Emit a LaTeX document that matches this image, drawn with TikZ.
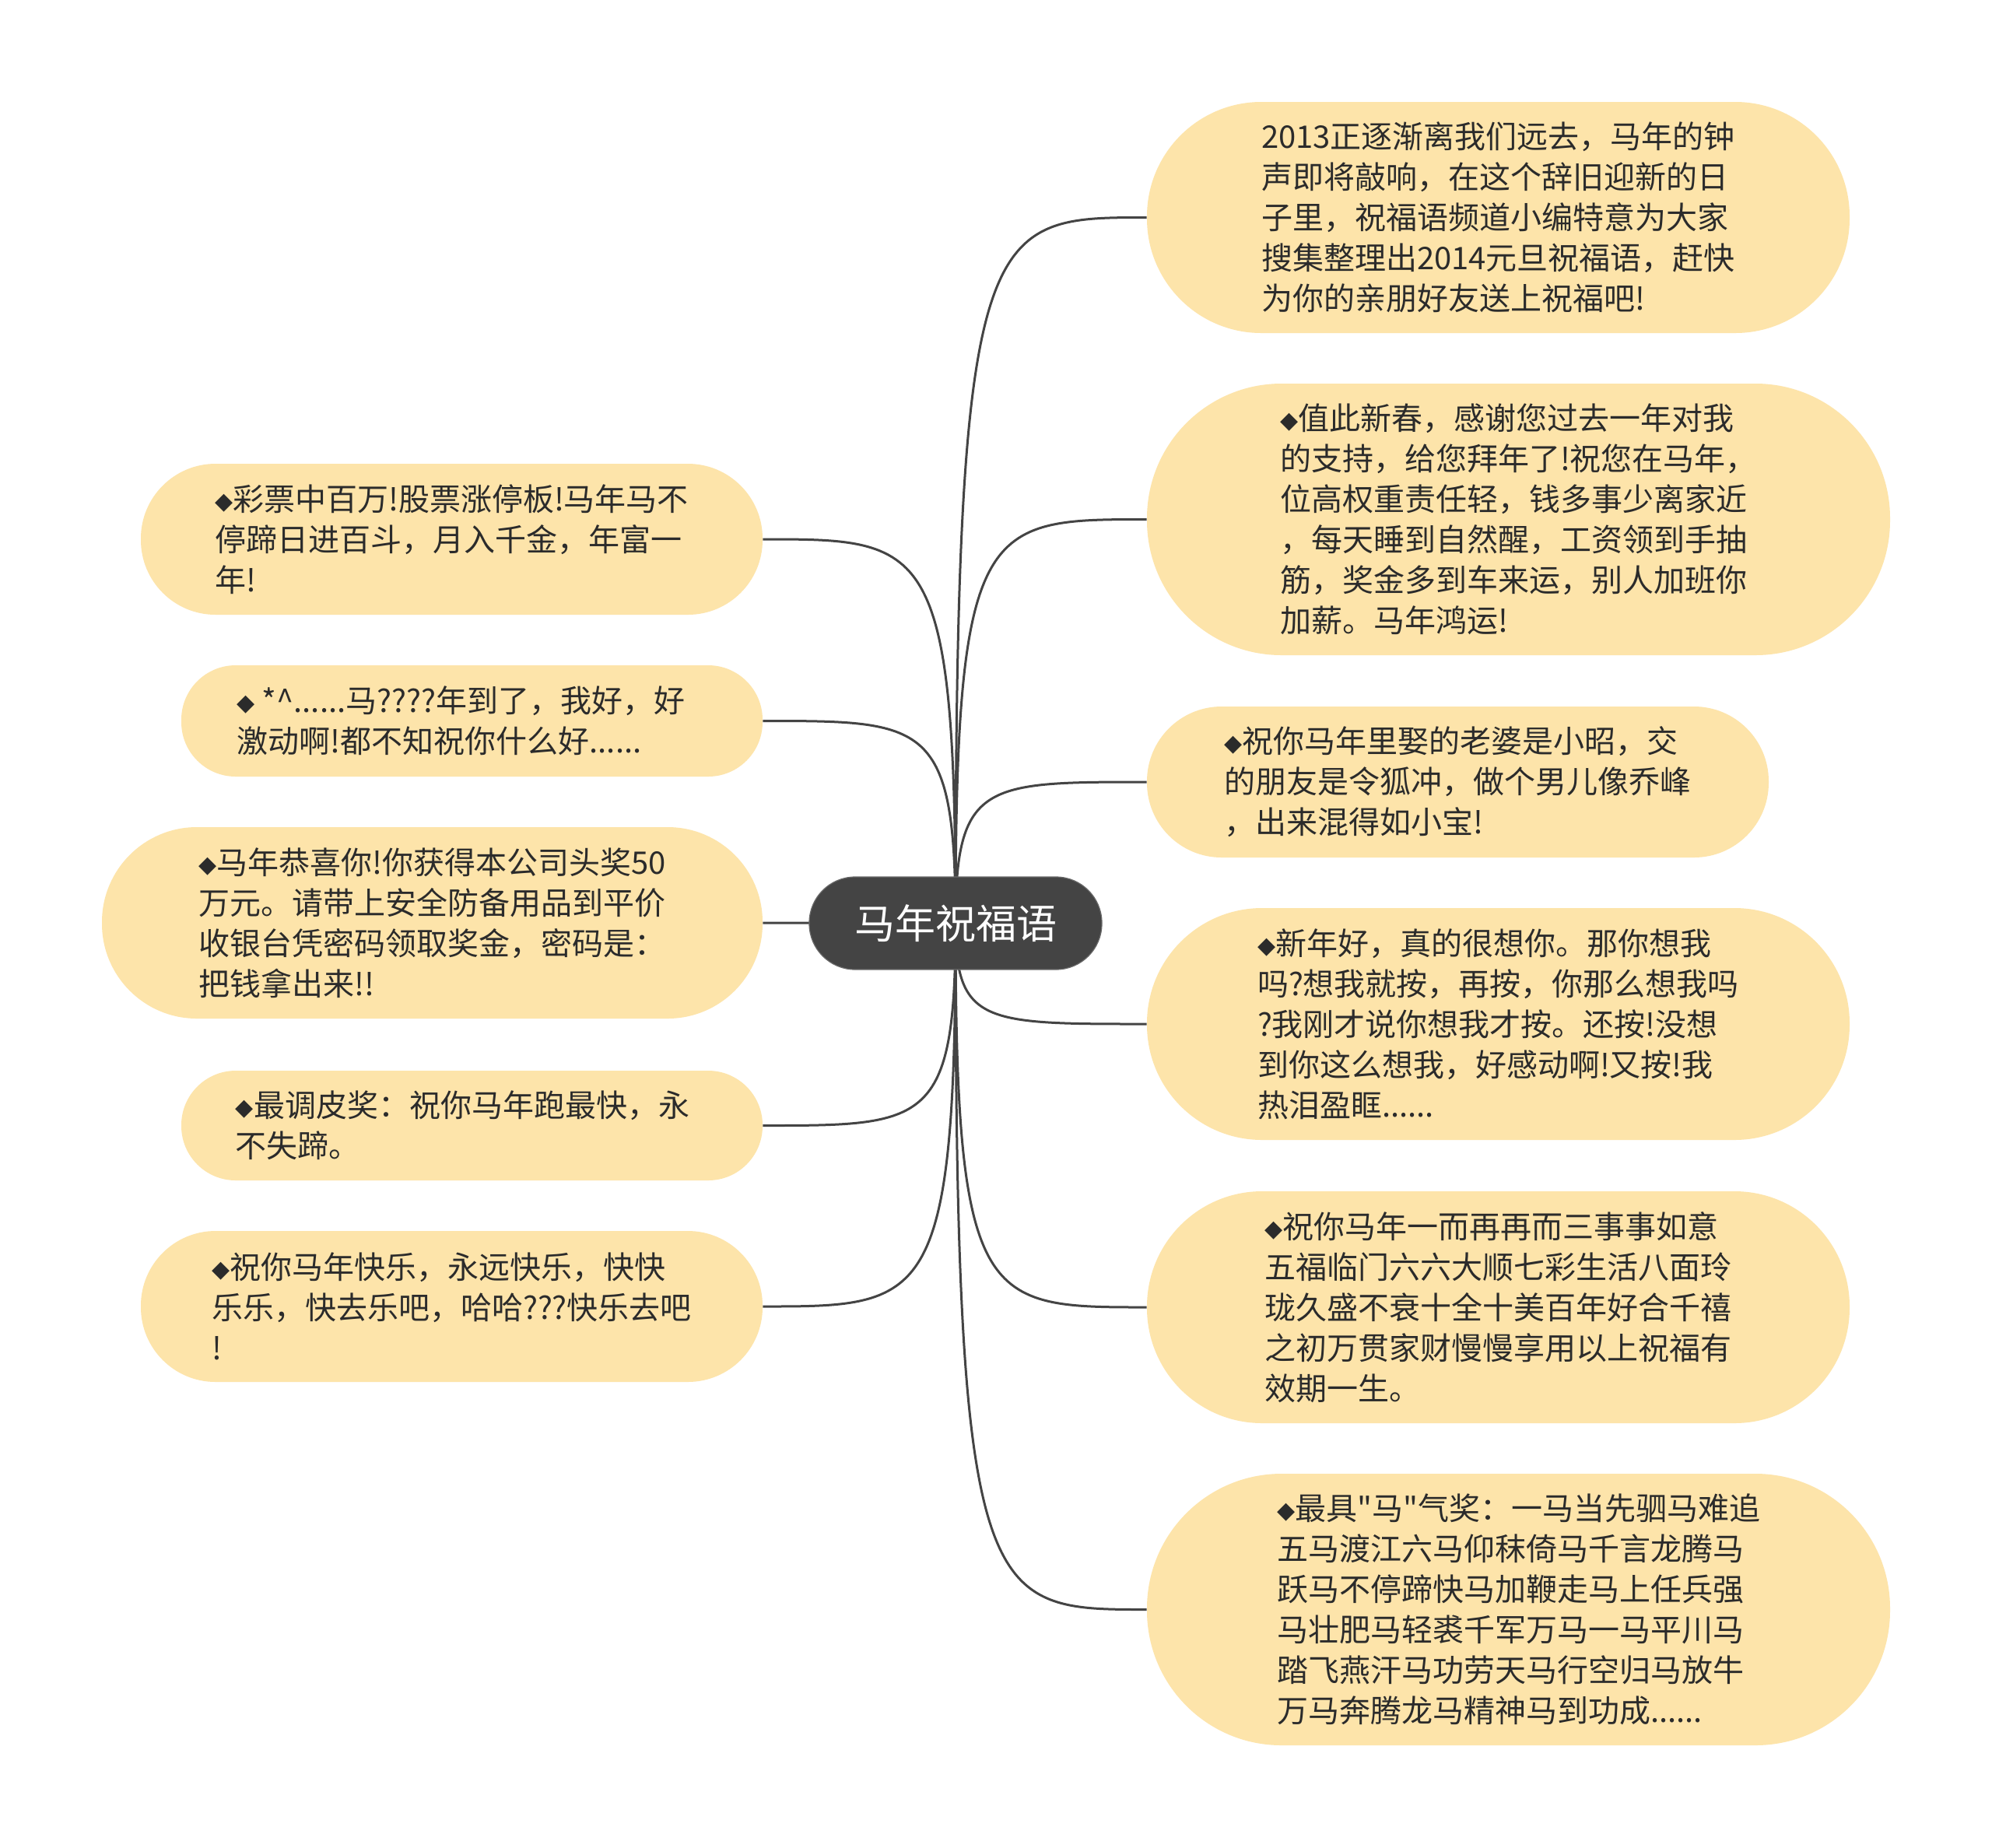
\documentclass[tikz,border=0pt]{standalone}
\usepackage{fontspec}
\setmainfont{Noto Sans CJK SC}[Ligatures=TeXOff]
\newfontfamily\dejavu{DejaVu Sans}
\usetikzlibrary{backgrounds,calc}
\definecolor{leaffill}{HTML}{FDE4AA}
\definecolor{rootfill}{HTML}{444444}
\definecolor{edgecol}{HTML}{444444}
\definecolor{txtcol}{HTML}{2B2B2B}
\newcommand\dia{\raisebox{1pt}{\dejavu\fontsize{15pt}{15pt}\selectfont ◆}}
\tikzset{
  leaf/.style={draw=none, fill=leaffill, inner sep=0pt, align=left, text=txtcol,
    font=\fontsize{20pt}{26pt}\selectfont},
  rootnode/.style={draw=rootfill!80!white, line width=0.6pt, fill=rootfill, inner sep=0pt, text=white,
    font=\fontsize{26pt}{30pt}\selectfont, minimum width=188pt, minimum height=59.5pt, rounded corners=29.5pt},
  edge/.style={draw=edgecol, line width=1.5pt},
}
\begin{document}
\begin{tikzpicture}[x=1pt,y=-1pt]
\useasboundingbox (0,0) rectangle (1280,1187);
% right side
\node[leaf, minimum width=451.5pt, minimum height=148.5pt, rounded corners=73.5pt] (r1) at (962.75,139.75)
 {2013正逐渐离我们远去，马年的钟\\声即将敲响，在这个辞旧迎新的日\\子里，祝福语频道小编特意为大家\\搜集整理出2014元旦祝福语，赶快\\为你的亲朋好友送上祝福吧!};
\node[leaf, minimum width=477.5pt, minimum height=174.5pt, rounded corners=86.5pt] (r2) at (975.75,333.75)
 {\dia 值此新春，感谢您过去一年对我\\的支持，给您拜年了!祝您在马年，\\位高权重责任轻，钱多事少离家近\\，每天睡到自然醒，工资领到手抽\\筋，奖金多到车来运，别人加班你\\加薪。马年鸿运!};
\node[leaf, minimum width=399.5pt, minimum height=97pt, rounded corners=48pt] (r3) at (936.75,502.5)
 {\dia 祝你马年里娶的老婆是小昭，交\\的朋友是令狐冲，做个男儿像乔峰\\，出来混得如小宝!};
\node[leaf, minimum width=451.5pt, minimum height=149pt, rounded corners=74pt] (r4) at (962.75,658)
 {\dia 新年好，真的很想你。那你想我\\吗?想我就按，再按，你那么想我吗\\?我刚才说你想我才按。还按!没想\\到你这么想我，好感动啊!又按!我\\热泪盈眶......};
\node[leaf, minimum width=451.5pt, minimum height=149pt, rounded corners=74pt] (r5) at (962.75,840)
 {\dia 祝你马年一而再再而三事事如意\\五福临门六六大顺七彩生活八面玲\\珑久盛不衰十全十美百年好合千禧\\之初万贯家财慢慢享用以上祝福有\\效期一生。};
\node[leaf, minimum width=477.5pt, minimum height=174.5pt, rounded corners=86.5pt] (r6) at (975.75,1034.25)
 {\dia 最具"马"气奖：一马当先驷马难追\\五马渡江六马仰秣倚马千言龙腾马\\跃马不停蹄快马加鞭走马上任兵强\\马壮肥马轻裘千军万马一马平川马\\踏飞燕汗马功劳天马行空归马放牛\\万马奔腾龙马精神马到功成......};
% left side
\node[leaf, minimum width=399.5pt, minimum height=97pt, rounded corners=48pt] (l1) at (290.25,346.5)
 {\dia 彩票中百万!股票涨停板!马年马不\\停蹄日进百斗，月入千金，年富一\\年!};
\node[leaf, minimum width=373.5pt, minimum height=71.5pt, rounded corners=35pt] (l2) at (303.25,463.25)
 {\dia\ *\textasciicircum......马????年到了，我好，好\hspace*{14pt}\\激动啊!都不知祝你什么好......};
\node[leaf, minimum width=424.5pt, minimum height=123pt, rounded corners=61pt] (l3) at (277.75,593)
 {\dia 马年恭喜你!你获得本公司头奖50\\万元。请带上安全防备用品到平价\\收银台凭密码领取奖金，密码是：\\把钱拿出来!!};
\node[leaf, minimum width=373.5pt, minimum height=70.5pt, rounded corners=35pt] (l4) at (303.25,723.25)
 {\dia 最调皮奖：祝你马年跑最快，永\hspace*{12pt}\\不失蹄。};
\node[leaf, minimum width=399.5pt, minimum height=97pt, rounded corners=48pt] (l5) at (290.25,839.5)
 {\dia 祝你马年快乐，永远快乐，快快\\乐乐，快去乐吧，哈哈???快乐去吧\\!};
% root
\node[rootnode] (root) at (614,593.25) {马年祝福语};
\begin{scope}[on background layer]
\fill[white] (0,0) rectangle (1280,1187);
\foreach \n in {r1,r2,r3,r4,r5,r6}{
  \draw[edge] (root.center) .. controls (root.center |- \n.west) and ($(root.center |- \n.west)!0.15!(\n.west)$) .. (\n.west);
}
\foreach \n in {l1,l2,l4,l5}{
  \draw[edge] (root.center) .. controls (root.center |- \n.east) and ($(root.center |- \n.east)!0.15!(\n.east)$) .. (\n.east);
}
\draw[edge] (root.center) -- (l3.east);
\end{scope}
\end{tikzpicture}
\end{document}
